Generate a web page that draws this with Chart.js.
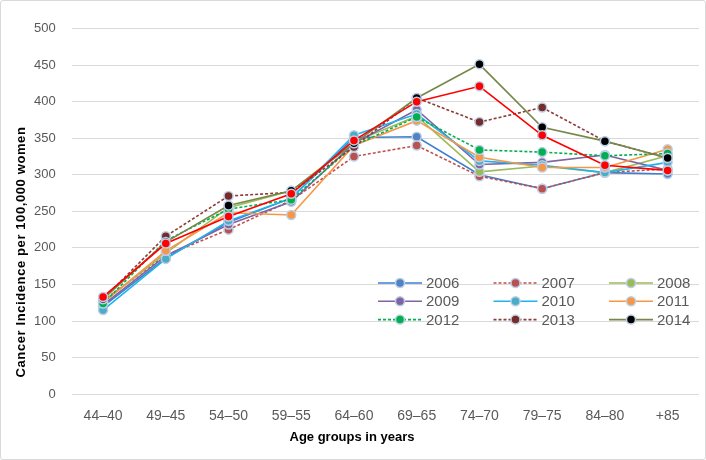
<!DOCTYPE html>
<html>
<head>
<meta charset="utf-8">
<script src="https://cdn.jsdelivr.net/npm/chart.js@4.4.1/dist/chart.umd.min.js"></script>
<style>
    html, body { margin: 0; padding: 0; background: #fff; }
    .frame { position: relative; width: 704px; height: 458px; border: 1px solid #d9d9d9; border-radius: 3px; }
</style>
</head>
<body>
<div class="frame"><canvas id="myChart"></canvas></div>
<script>
const labels = ["44\u201340", "49\u201345", "54\u201350", "59\u201355", "64\u201360", "69\u201365", "74\u201370", "79\u201375", "84\u201380", "+85"];
const yTicks = [0, 50, 100, 150, 200, 250, 300, 350, 400, 450, 500];

const v2006 = [120, 186, 235, 268, 351, 352, 300, 281, 303, 301];
const v2007 = [128, 190, 225, 265, 325, 340, 298, 281, 303, 308];
const v2008 = [126, 193, 255, 278, 345, 380, 304, 312, 303, 326];
const v2009 = [122, 189, 232, 263, 343, 389, 314, 317, 327, 306];
const v2010 = [115, 185, 237, 268, 354, 383, 319, 313, 303, 317];
const v2011 = [125, 196, 248, 245, 340, 374, 324, 310, 310, 335];
const v2012 = [124, 210, 253, 266, 340, 379, 334, 331, 326, 329];
const v2013 = [130, 216, 271, 276, 338, 405, 372, 392, 346, 323];
const v2014 = [130, 208, 258, 278, 343, 405, 451, 365, 346, 323];
const vRed  = [133, 206, 243, 274, 347, 400, 421, 354, 313, 306];

function series(label, data, line, dot, dash, order) {
    return {
        label: label,
        data: data,
        borderColor: line,
        backgroundColor: dot,
        pointBackgroundColor: dot,
        pointBorderColor: "#bccfe6",
        pointBorderWidth: 1.5,
        pointRadius: 4.5,
        borderWidth: 1.6,
        borderDash: dash,
        tension: 0,
        order: order,
    };
}

const datasets = [
    series("2006", v2006, "#3b7fd0", "#5281c4", [], 9),
    series("2007", v2007, "#c0504d", "#b9514e", [3, 2], 8),
    series("2008", v2008, "#9bbb59", "#9bbb59", [], 7),
    series("2009", v2009, "#8064a2", "#8064a2", [], 6),
    series("2010", v2010, "#1fb4ee", "#4bacc6", [], 5),
    series("2011", v2011, "#f79646", "#f79646", [], 4),
    series("2012", v2012, "#00b050", "#00b050", [3, 2], 3),
    series("2013", v2013, "#8c3b39", "#772c2a", [3, 2], 2),
    series("2014", v2014, "#75884a", "#000000", [], 1),
    series("", vRed, "#ff0000", "#ff0000", [], 0),
];

// legend in 3 columns inside the plot, bottom right
const legendBox = {
    id: "legendBox",
    afterDraw(chart) {
        const ctx = chart.ctx;
        ctx.save();
        ctx.font = "15px 'Liberation Sans', Arial, sans-serif";
        ctx.textBaseline = "middle";
        for (let i = 0; i < 9; i++) {
            const ds = chart.data.datasets[i];
            const x = 377 + (i % 3) * 115.5;
            const y = 282 + Math.floor(i / 3) * 18.3;
            ctx.strokeStyle = ds.borderColor;
            ctx.lineWidth = 1.6;
            ctx.setLineDash(ds.borderDash);
            ctx.beginPath();
            ctx.moveTo(x, y);
            ctx.lineTo(x + 44, y);
            ctx.stroke();
            ctx.setLineDash([]);
            ctx.beginPath();
            ctx.arc(x + 22, y, 4.5, 0, Math.PI * 2);
            ctx.fillStyle = ds.pointBackgroundColor;
            ctx.fill();
            ctx.strokeStyle = "#bccfe6";
            ctx.lineWidth = 1.5;
            ctx.stroke();
            ctx.fillStyle = "#595959";
            ctx.textAlign = "left";
            ctx.fillText(ds.label, x + 48, y + 1);
        }
        // axis titles
        ctx.fillStyle = "#000";
        ctx.font = "bold 13px 'Liberation Sans', Arial, sans-serif";
        ctx.textAlign = "center";
        ctx.fillText("Age groups in years", 351, 436);
        ctx.translate(20, 251);
        ctx.rotate(-Math.PI / 2);
        ctx.letterSpacing = "0.6px";
        ctx.fillText("Cancer Incidence per 100,000 women", 0, 0);
        ctx.restore();
    }
};

const config = {
    type: "line",
    data: { labels: labels, datasets: datasets },
    options: {
        responsive: true,
        maintainAspectRatio: false,
        animation: false,
        layout: { padding: { left: 17, right: 5, top: 27.5, bottom: 20 } },
        plugins: {
            legend: { display: false },
            tooltip: { enabled: false },
        },
        scales: {
            x: {
                offset: true,
                grid: { display: false, drawTicks: false },
                border: { display: false },
                ticks: {
                    color: "#595959",
                    padding: 14,
                    font: { family: "'Liberation Sans', Arial, sans-serif", size: 14 },
                },
            },
            y: {
                min: 0,
                max: 500,
                afterBuildTicks: (axis) => { axis.ticks = yTicks.map(v => ({ value: v })); },
                grid: { color: "#d9d9d9", drawTicks: false },
                border: { display: false },
                ticks: {
                    color: "#595959",
                    padding: 16,
                    font: { family: "'Liberation Sans', Arial, sans-serif", size: 13 },
                },
            },
        },
    },
    plugins: [legendBox],
};

const myChart = new Chart(document.getElementById("myChart"), config);
</script>
</body>
</html>
